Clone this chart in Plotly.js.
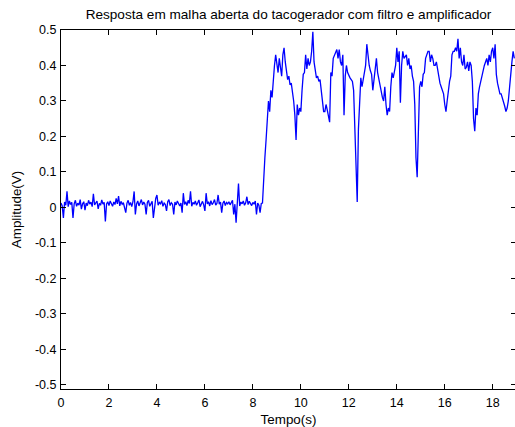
<!DOCTYPE html>
<html>
<head>
<meta charset="utf-8">
<script src="https://cdn.plot.ly/plotly-3.0.1.min.js"></script>
<style>
html,body{margin:0;padding:0;overflow:hidden;background:#fff;}
#chart{width:517px;height:427px;}
</style>
</head>
<body>
<div id="chart"></div>
<script>
// Sampling of the recorded signal
const sampleStart = 0;      // s
const sampleStep = 0.05;    // s

// Amplitude (V) before the step (t = 0 ... 8.35 s)
const beforeStep = [
  0.012, 0.004, -0.03, 0.015, 0.006, 0.045, 0.002, 0.018, 0.008, 0.014, -0.03, 0.01, 0.02, 0.003, 0.012, 0.006, 0.022, -0.005, 0.01, 0.016,
  -0.008, 0.012, 0.005, 0.02, 0.009, 0.015, 0.002, 0.038, 0.007, 0.013, 0.018, -0.004, 0.011, 0.006, 0.021, 0.009, 0.014, -0.04, 0.01, 0.016,
  0.005, 0.018, 0.011, 0.003, 0.015, 0.008, 0.025, 0.01, 0.032, 0.004, 0.017, 0.009, 0.013, -0.006, -0.015, 0.012, 0.02, 0.006, 0.014, 0.002,
  0.016, 0.045, -0.02, 0.01, 0.018, 0.004, 0.012, 0.022, 0.007, 0.015, 0.009, -0.02, 0.014, 0.02, 0.003, 0.011, 0.017, -0.03, 0.008, 0.025,
  0.035, 0.006, 0.014, 0.01, 0.019, 0.003, 0.012, 0.008, -0.01, 0.016, 0.022, 0.005, 0.013, 0.009, -0.02, 0.015, 0.007, 0.018, 0.011, 0.004,
  0.012, -0.015, 0.04, 0.008, 0.016, 0.005, 0.02, 0.011, 0.045, 0.003, 0.014, 0.009, 0.018, 0.006, 0.013, 0.021, 0.002, 0.012, 0.017, 0.007,
  -0.01, 0.04, 0.01, 0.016, 0.004, 0.019, 0.008, 0.013, 0.022, 0.006, 0.011, 0.035, 0.009, 0.015, -0.015, 0.012, 0.018, 0.005, 0.014, 0.01,
  0.016, 0.007, 0.012, 0.02, -0.02, 0.009, -0.043, 0.014, 0.067, 0.004, 0.015, 0.01, 0.018, 0.006, 0.013, 0.03, 0.008, 0.017, 0.011, 0.005,
  0.014, 0.009, 0.018, -0.02, 0.012, 0.006, -0.015, 0.011
];

// Amplitude (V) after the step (t = 8.40 ... 18.90 s)
const afterStep = [
  0.012, 0.09, 0.14, 0.19, 0.24, 0.30, 0.27, 0.33, 0.31, 0.37,
  0.40, 0.43, 0.40, 0.38, 0.42, 0.39, 0.37, 0.43, 0.45, 0.41,
  0.38, 0.36, 0.37, 0.345, 0.35, 0.33, 0.30, 0.26, 0.19, 0.29,
  0.26, 0.28, 0.27, 0.33, 0.375, 0.38, 0.43, 0.39, 0.42, 0.40,
  0.41, 0.44, 0.495, 0.41, 0.39, 0.365, 0.37, 0.355, 0.36, 0.33,
  0.30, 0.27,
  0.27, 0.29, 0.275, 0.26, 0.24, 0.38, 0.37, 0.42, 0.43, 0.44,
  0.445, 0.42, 0.445, 0.41, 0.40, 0.43, 0.26, 0.37, 0.40, 0.38,
  0.37, 0.365, 0.36, 0.355, 0.33, 0.24, 0.10, 0.015, 0.22, 0.31,
  0.365, 0.34, 0.36, 0.38, 0.40, 0.46, 0.42, 0.40, 0.385, 0.375,
  0.33, 0.36, 0.40, 0.42, 0.38, 0.36, 0.34, 0.32, 0.31, 0.30,
  0.34, 0.29, 0.26, 0.28, 0.27, 0.34, 0.38, 0.365, 0.39, 0.40,
  0.45, 0.41, 0.44, 0.295, 0.40, 0.44, 0.42, 0.425, 0.43, 0.40,
  0.42, 0.39, 0.40, 0.37, 0.355, 0.29, 0.14, 0.085, 0.25, 0.34,
  0.355, 0.34, 0.375, 0.38, 0.42, 0.43, 0.44, 0.44, 0.41, 0.43,
  0.42, 0.40, 0.40, 0.41, 0.39, 0.365, 0.35, 0.34, 0.33, 0.32,
  0.29, 0.27, 0.30, 0.33, 0.355, 0.37, 0.43, 0.44, 0.44, 0.45,
  0.44, 0.475, 0.42, 0.45, 0.41, 0.40, 0.43, 0.39, 0.395, 0.41,
  0.385, 0.41, 0.40, 0.355, 0.25, 0.215, 0.28, 0.26, 0.32, 0.34,
  0.355, 0.375, 0.385, 0.40, 0.41, 0.42, 0.40, 0.43, 0.41, 0.44,
  0.45, 0.42, 0.46, 0.375, 0.35, 0.33, 0.32, 0.32, 0.31, 0.30,
  0.285, 0.27, 0.28, 0.30, 0.34, 0.395, 0.41, 0.44, 0.42
];

const amplitude = beforeStep.concat(afterStep);

// Tick labels
const xTickVals = [0, 2, 4, 6, 8, 10, 12, 14, 16, 18];
const xTickText = ['0', '2', '4', '6', '8', '10', '12', '14', '16', '18'];
const yTickVals = [-0.5, -0.4, -0.3, -0.2, -0.1, 0, 0.1, 0.2, 0.3, 0.4, 0.5];
const yTickText = ['-0.5', '-0.4', '-0.3', '-0.2', '-0.1', '0', '0.1', '0.2', '0.3', '0.4', '0.5'];

const trace = {
  type: 'scatter',
  mode: 'lines',
  x0: sampleStart,
  dx: sampleStep,
  y: amplitude,
  line: {color: '#0000ff', width: 1.3},
  hoverinfo: 'x+y'
};

const FONT = 'Liberation Sans, Arial, sans-serif';

const axisCommon = {
  showline: true,
  linecolor: '#000',
  linewidth: 1,
  mirror: 'ticks',
  ticks: 'inside',
  ticklen: 5,
  tickwidth: 1,
  tickcolor: '#000',
  showgrid: false,
  zeroline: false,
  tickfont: {family: FONT, size: 12.5, color: '#000'}
};

const layout = {
  width: 517,
  height: 427,
  margin: {l: 61, r: 1, t: 30, b: 38},
  paper_bgcolor: '#fff',
  plot_bgcolor: '#fff',
  showlegend: false,
  font: {family: FONT, size: 12.5, color: '#000'},
  title: {
    text: 'Resposta em malha aberta do tacogerador com filtro e amplificador',
    font: {family: FONT, size: 13.6, color: '#000'},
    x: 0.5, xref: 'paper', xanchor: 'center',
    y: 1, yref: 'container', yanchor: 'top', pad: {t: 9}
  },
  xaxis: Object.assign({}, axisCommon, {
    range: [0, 18.97],
    tickmode: 'array',
    tickvals: xTickVals,
    ticktext: xTickText,
    ticklabelstandoff: 2,
    title: {text: 'Tempo(s)', font: {family: FONT, size: 13.4, color: '#000'}, standoff: 6}
  }),
  yaxis: Object.assign({}, axisCommon, {
    range: [-0.512, 0.5],
    tickmode: 'array',
    tickvals: yTickVals,
    ticktext: yTickText,
    ticklabelstandoff: 1,
    title: {text: 'Amplitude(V)', font: {family: FONT, size: 13.4, color: '#000'}, standoff: 10}
  })
};

Plotly.newPlot('chart', [trace], layout, {displayModeBar: false, staticPlot: true});
</script>
</body>
</html>
